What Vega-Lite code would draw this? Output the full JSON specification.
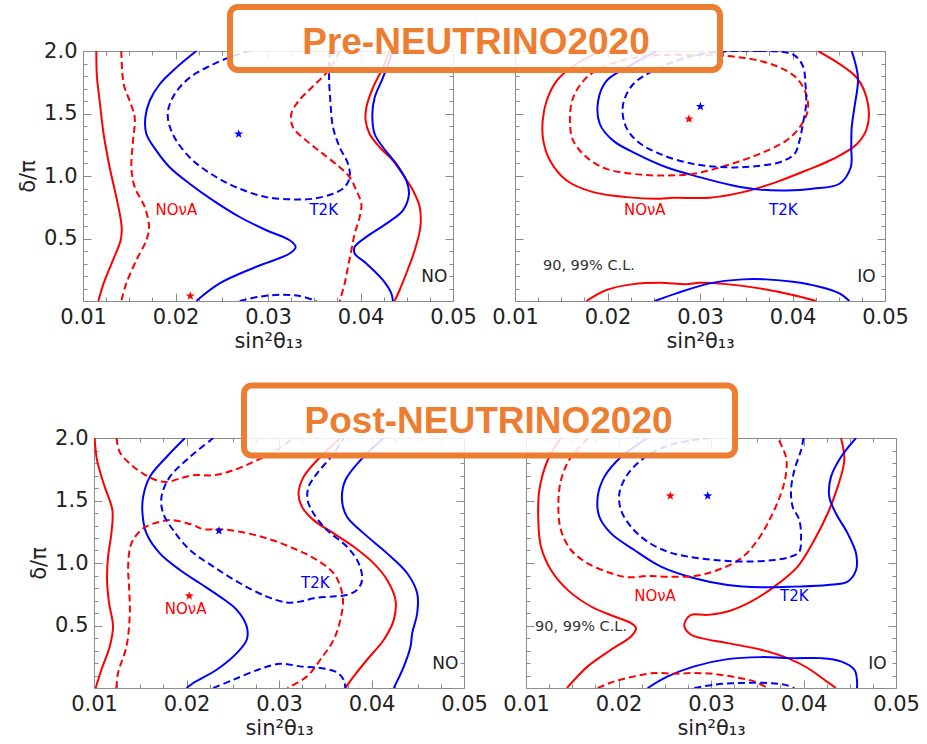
{
  "$schema": "https://vega.github.io/schema/vega-lite/v6.json",
  "padding": {"left": 17, "top": 3, "right": 5, "bottom": 5},
  "spacing": 30,
  "config": {
    "view": {"stroke": "#8c8c8c", "strokeWidth": 1},
    "axis": {"grid": false, "domain": false, "tickColor": "#8c8c8c", "tickWidth": 1, "labelFont": "DejaVu Sans", "labelFontSize": 21, "labelColor": "#222222", "labelFlush": false, "labelOverlap": false, "titleFont": "DejaVu Sans", "titleFontSize": 21, "titleFontWeight": "normal", "titleColor": "#222222"},
    "text": {"font": "DejaVu Sans"}
  },
  "datasets": {
    "tl": [
      {"c":"a","e":"N","l":"s","x":0.01144,"y":2.0},{"c":"a","e":"N","l":"s","x":0.0115,"y":1.8},{"c":"a","e":"N","l":"s","x":0.0118,"y":1.6},{"c":"a","e":"N","l":"s","x":0.01223,"y":1.336},{"c":"a","e":"N","l":"s","x":0.01288,"y":1.07},{"c":"a","e":"N","l":"s","x":0.01368,"y":0.805},{"c":"a","e":"N","l":"s","x":0.01418,"y":0.593},{"c":"a","e":"N","l":"s","x":0.01407,"y":0.486},{"c":"a","e":"N","l":"s","x":0.01324,"y":0.327},{"c":"a","e":"N","l":"s","x":0.01223,"y":0.141},{"c":"a","e":"N","l":"s","x":0.01166,"y":0},
      {"c":"b","e":"N","l":"d","x":0.01414,"y":2.0},{"c":"b","e":"N","l":"d","x":0.0144,"y":1.734},{"c":"b","e":"N","l":"d","x":0.01505,"y":1.6},{"c":"b","e":"N","l":"d","x":0.01559,"y":1.469},{"c":"b","e":"N","l":"d","x":0.01541,"y":1.283},{"c":"b","e":"N","l":"d","x":0.01523,"y":1.07},{"c":"b","e":"N","l":"d","x":0.01559,"y":0.911},{"c":"b","e":"N","l":"d","x":0.01667,"y":0.752},{"c":"b","e":"N","l":"d","x":0.01714,"y":0.593},{"c":"b","e":"N","l":"d","x":0.01685,"y":0.486},{"c":"b","e":"N","l":"d","x":0.01577,"y":0.327},{"c":"b","e":"N","l":"d","x":0.01468,"y":0.141},{"c":"b","e":"N","l":"d","x":0.01414,"y":0},
      {"c":"c","e":"T","l":"s","x":0.02225,"y":2.0},{"c":"c","e":"T","l":"s","x":0.02009,"y":1.867},{"c":"c","e":"T","l":"s","x":0.01829,"y":1.734},{"c":"c","e":"T","l":"s","x":0.01721,"y":1.602},{"c":"c","e":"T","l":"s","x":0.01674,"y":1.469},{"c":"c","e":"T","l":"s","x":0.01685,"y":1.336},{"c":"c","e":"T","l":"s","x":0.01793,"y":1.203},{"c":"c","e":"T","l":"s","x":0.01937,"y":1.07},{"c":"c","e":"T","l":"s","x":0.02153,"y":0.938},{"c":"c","e":"T","l":"s","x":0.02405,"y":0.805},{"c":"c","e":"T","l":"s","x":0.02694,"y":0.672},{"c":"c","e":"T","l":"s","x":0.02982,"y":0.566},{"c":"c","e":"T","l":"s","x":0.03234,"y":0.486},{"c":"c","e":"T","l":"s","x":0.03299,"y":0.433},{"c":"c","e":"T","l":"s","x":0.03234,"y":0.38},{"c":"c","e":"T","l":"s","x":0.02874,"y":0.274},{"c":"c","e":"T","l":"s","x":0.02477,"y":0.141},{"c":"c","e":"T","l":"s","x":0.02225,"y":0},
      {"c":"d","e":"T","l":"d","x":0.03667,"y":2.0},{"c":"d","e":"T","l":"d","x":0.0366,"y":1.787},{"c":"d","e":"T","l":"d","x":0.03674,"y":1.602},{"c":"d","e":"T","l":"d","x":0.03703,"y":1.389},{"c":"d","e":"T","l":"d","x":0.03775,"y":1.23},{"c":"d","e":"T","l":"d","x":0.03865,"y":1.097},{"c":"d","e":"T","l":"d","x":0.03883,"y":0.991},{"c":"d","e":"T","l":"d","x":0.03829,"y":0.911},{"c":"d","e":"T","l":"d","x":0.03703,"y":0.858},{"c":"d","e":"T","l":"d","x":0.03486,"y":0.818},{"c":"d","e":"T","l":"d","x":0.0327,"y":0.813},{"c":"d","e":"T","l":"d","x":0.02982,"y":0.831},{"c":"d","e":"T","l":"d","x":0.02694,"y":0.898},{"c":"d","e":"T","l":"d","x":0.02441,"y":0.991},{"c":"d","e":"T","l":"d","x":0.02189,"y":1.124},{"c":"d","e":"T","l":"d","x":0.02009,"y":1.283},{"c":"d","e":"T","l":"d","x":0.0193,"y":1.416},{"c":"d","e":"T","l":"d","x":0.01919,"y":1.522},{"c":"d","e":"T","l":"d","x":0.01991,"y":1.655},{"c":"d","e":"T","l":"d","x":0.02153,"y":1.787},{"c":"d","e":"T","l":"d","x":0.02369,"y":1.88},{"c":"d","e":"T","l":"d","x":0.02622,"y":1.96},{"c":"d","e":"T","l":"d","x":0.02802,"y":2.0},
      {"c":"e","e":"T","l":"d","x":0.02694,"y":0},{"c":"e","e":"T","l":"d","x":0.0291,"y":0.035},{"c":"e","e":"T","l":"d","x":0.03162,"y":0.05},{"c":"e","e":"T","l":"d","x":0.03342,"y":0.04},{"c":"e","e":"T","l":"d","x":0.03523,"y":0},
      {"c":"f","e":"N","l":"d","x":0.03775,"y":2.0},{"c":"f","e":"N","l":"d","x":0.0366,"y":1.85},{"c":"f","e":"N","l":"d","x":0.0349,"y":1.72},{"c":"f","e":"N","l":"d","x":0.0333,"y":1.6},{"c":"f","e":"N","l":"d","x":0.03252,"y":1.495},{"c":"f","e":"N","l":"d","x":0.0327,"y":1.389},{"c":"f","e":"N","l":"d","x":0.03414,"y":1.283},{"c":"f","e":"N","l":"d","x":0.03595,"y":1.177},{"c":"f","e":"N","l":"d","x":0.03775,"y":1.07},{"c":"f","e":"N","l":"d","x":0.03883,"y":0.991},{"c":"f","e":"N","l":"d","x":0.03955,"y":0.884},{"c":"f","e":"N","l":"d","x":0.04009,"y":0.778},{"c":"f","e":"N","l":"d","x":0.03991,"y":0.672},{"c":"f","e":"N","l":"d","x":0.03937,"y":0.539},{"c":"f","e":"N","l":"d","x":0.03901,"y":0.406},{"c":"f","e":"N","l":"d","x":0.03865,"y":0.274},{"c":"f","e":"N","l":"d","x":0.03829,"y":0.141},{"c":"f","e":"N","l":"d","x":0.03775,"y":0},
      {"c":"g","e":"N","l":"s","x":0.04315,"y":2.0},{"c":"g","e":"N","l":"s","x":0.04243,"y":1.867},{"c":"g","e":"N","l":"s","x":0.04135,"y":1.708},{"c":"g","e":"N","l":"s","x":0.04063,"y":1.548},{"c":"g","e":"N","l":"s","x":0.04056,"y":1.442},{"c":"g","e":"N","l":"s","x":0.04099,"y":1.336},{"c":"g","e":"N","l":"s","x":0.04207,"y":1.23},{"c":"g","e":"N","l":"s","x":0.04351,"y":1.124},{"c":"g","e":"N","l":"s","x":0.04477,"y":0.991},{"c":"g","e":"N","l":"s","x":0.04568,"y":0.884},{"c":"g","e":"N","l":"s","x":0.0464,"y":0.752},{"c":"g","e":"N","l":"s","x":0.04647,"y":0.592},{"c":"g","e":"N","l":"s","x":0.04586,"y":0.406},{"c":"g","e":"N","l":"s","x":0.04495,"y":0.22},{"c":"g","e":"N","l":"s","x":0.04423,"y":0.088},{"c":"g","e":"N","l":"s","x":0.04369,"y":0},
      {"c":"h","e":"T","l":"s","x":0.04351,"y":2.0},{"c":"h","e":"T","l":"s","x":0.04243,"y":1.787},{"c":"h","e":"T","l":"s","x":0.04153,"y":1.628},{"c":"h","e":"T","l":"s","x":0.04128,"y":1.495},{"c":"h","e":"T","l":"s","x":0.04153,"y":1.336},{"c":"h","e":"T","l":"s","x":0.04243,"y":1.23},{"c":"h","e":"T","l":"s","x":0.04387,"y":1.097},{"c":"h","e":"T","l":"s","x":0.04495,"y":0.964},{"c":"h","e":"T","l":"s","x":0.04524,"y":0.858},{"c":"h","e":"T","l":"s","x":0.04459,"y":0.725},{"c":"h","e":"T","l":"s","x":0.04279,"y":0.619},{"c":"h","e":"T","l":"s","x":0.04063,"y":0.513},{"c":"h","e":"T","l":"s","x":0.03937,"y":0.433},{"c":"h","e":"T","l":"s","x":0.03937,"y":0.38},{"c":"h","e":"T","l":"s","x":0.04063,"y":0.3},{"c":"h","e":"T","l":"s","x":0.04243,"y":0.167},{"c":"h","e":"T","l":"s","x":0.04333,"y":0.061},{"c":"h","e":"T","l":"s","x":0.04351,"y":0}
    ],
    "tr": [
      {"c":"a","e":"N","l":"s","x":0.01917,"y":2.0},{"c":"a","e":"N","l":"s","x":0.01629,"y":1.88},{"c":"a","e":"N","l":"s","x":0.0145,"y":1.761},{"c":"a","e":"N","l":"s","x":0.01342,"y":1.602},{"c":"a","e":"N","l":"s","x":0.01299,"y":1.442},{"c":"a","e":"N","l":"s","x":0.01306,"y":1.283},{"c":"a","e":"N","l":"s","x":0.01378,"y":1.124},{"c":"a","e":"N","l":"s","x":0.01558,"y":0.964},{"c":"a","e":"N","l":"s","x":0.01845,"y":0.871},{"c":"a","e":"N","l":"s","x":0.02205,"y":0.831},{"c":"a","e":"N","l":"s","x":0.02565,"y":0.818},{"c":"a","e":"N","l":"s","x":0.02709,"y":0.826},{"c":"a","e":"N","l":"s","x":0.03104,"y":0.826},{"c":"a","e":"N","l":"s","x":0.03464,"y":0.871},{"c":"a","e":"N","l":"s","x":0.03824,"y":0.951},{"c":"a","e":"N","l":"s","x":0.04147,"y":1.044},{"c":"a","e":"N","l":"s","x":0.04438,"y":1.136},{"c":"a","e":"N","l":"s","x":0.04697,"y":1.256},{"c":"a","e":"N","l":"s","x":0.04805,"y":1.384},{"c":"a","e":"N","l":"s","x":0.04816,"y":1.576},{"c":"a","e":"N","l":"s","x":0.04697,"y":1.784},{"c":"a","e":"N","l":"s","x":0.04276,"y":2.0},
      {"c":"b","e":"N","l":"s","x":0.01773,"y":0},{"c":"b","e":"N","l":"s","x":0.01989,"y":0.088},{"c":"b","e":"N","l":"s","x":0.02277,"y":0.135},{"c":"b","e":"N","l":"s","x":0.02565,"y":0.146},{"c":"b","e":"N","l":"s","x":0.02853,"y":0.135},{"c":"b","e":"N","l":"s","x":0.02996,"y":0.146},{"c":"b","e":"N","l":"s","x":0.03284,"y":0.135},{"c":"b","e":"N","l":"s","x":0.03644,"y":0.101},{"c":"b","e":"N","l":"s","x":0.04004,"y":0.048},{"c":"b","e":"N","l":"s","x":0.04255,"y":0},
      {"c":"c","e":"N","l":"d","x":0.02924,"y":1.968},{"c":"c","e":"N","l":"d","x":0.02421,"y":1.96},{"c":"c","e":"N","l":"d","x":0.02025,"y":1.894},{"c":"c","e":"N","l":"d","x":0.01773,"y":1.787},{"c":"c","e":"N","l":"d","x":0.01629,"y":1.628},{"c":"c","e":"N","l":"d","x":0.01594,"y":1.442},{"c":"c","e":"N","l":"d","x":0.01629,"y":1.283},{"c":"c","e":"N","l":"d","x":0.01773,"y":1.15},{"c":"c","e":"N","l":"d","x":0.01989,"y":1.057},{"c":"c","e":"N","l":"d","x":0.02277,"y":1.017},{"c":"c","e":"N","l":"d","x":0.02565,"y":1.004},{"c":"c","e":"N","l":"d","x":0.02924,"y":1.017},{"c":"c","e":"N","l":"d","x":0.03284,"y":1.084},{"c":"c","e":"N","l":"d","x":0.03644,"y":1.177},{"c":"c","e":"N","l":"d","x":0.03932,"y":1.283},{"c":"c","e":"N","l":"d","x":0.04076,"y":1.389},{"c":"c","e":"N","l":"d","x":0.04165,"y":1.522},{"c":"c","e":"N","l":"d","x":0.04147,"y":1.655},{"c":"c","e":"N","l":"d","x":0.0404,"y":1.787},{"c":"c","e":"N","l":"d","x":0.03824,"y":1.88},{"c":"c","e":"N","l":"d","x":0.03572,"y":1.933},{"c":"c","e":"N","l":"d","x":0.03284,"y":1.96},{"c":"c","e":"N","l":"d","x":0.02924,"y":1.968},
      {"c":"d","e":"T","l":"s","x":0.02529,"y":2.0},{"c":"d","e":"T","l":"s","x":0.02205,"y":1.867},{"c":"d","e":"T","l":"s","x":0.01989,"y":1.761},{"c":"d","e":"T","l":"s","x":0.01899,"y":1.602},{"c":"d","e":"T","l":"s","x":0.01917,"y":1.416},{"c":"d","e":"T","l":"s","x":0.02061,"y":1.283},{"c":"d","e":"T","l":"s","x":0.02313,"y":1.177},{"c":"d","e":"T","l":"s","x":0.02637,"y":1.07},{"c":"d","e":"T","l":"s","x":0.02996,"y":0.991},{"c":"d","e":"T","l":"s","x":0.03356,"y":0.924},{"c":"d","e":"T","l":"s","x":0.03644,"y":0.891},{"c":"d","e":"T","l":"s","x":0.03932,"y":0.884},{"c":"d","e":"T","l":"s","x":0.04219,"y":0.898},{"c":"d","e":"T","l":"s","x":0.04507,"y":0.938},{"c":"d","e":"T","l":"s","x":0.0463,"y":1.07},{"c":"d","e":"T","l":"s","x":0.04635,"y":1.23},{"c":"d","e":"T","l":"s","x":0.0464,"y":1.389},{"c":"d","e":"T","l":"s","x":0.04669,"y":1.548},{"c":"d","e":"T","l":"s","x":0.04708,"y":1.784},{"c":"d","e":"T","l":"s","x":0.0464,"y":2.0},
      {"c":"e","e":"T","l":"s","x":0.02511,"y":0},{"c":"e","e":"T","l":"s","x":0.02745,"y":0.061},{"c":"e","e":"T","l":"s","x":0.03104,"y":0.141},{"c":"e","e":"T","l":"s","x":0.03464,"y":0.173},{"c":"e","e":"T","l":"s","x":0.03716,"y":0.173},{"c":"e","e":"T","l":"s","x":0.04004,"y":0.154},{"c":"e","e":"T","l":"s","x":0.04291,"y":0.114},{"c":"e","e":"T","l":"s","x":0.04507,"y":0.061},{"c":"e","e":"T","l":"s","x":0.04615,"y":0},
      {"c":"f","e":"T","l":"d","x":0.03644,"y":2.0},{"c":"f","e":"T","l":"d","x":0.04004,"y":1.973},{"c":"f","e":"T","l":"d","x":0.04112,"y":1.88},{"c":"f","e":"T","l":"d","x":0.0414,"y":1.734},{"c":"f","e":"T","l":"d","x":0.04147,"y":1.575},{"c":"f","e":"T","l":"d","x":0.04112,"y":1.416},{"c":"f","e":"T","l":"d","x":0.04076,"y":1.283},{"c":"f","e":"T","l":"d","x":0.04022,"y":1.177},{"c":"f","e":"T","l":"d","x":0.0386,"y":1.11},{"c":"f","e":"T","l":"d","x":0.03572,"y":1.076},{"c":"f","e":"T","l":"d","x":0.03284,"y":1.07},{"c":"f","e":"T","l":"d","x":0.02924,"y":1.097},{"c":"f","e":"T","l":"d","x":0.02565,"y":1.177},{"c":"f","e":"T","l":"d","x":0.02313,"y":1.283},{"c":"f","e":"T","l":"d","x":0.02187,"y":1.416},{"c":"f","e":"T","l":"d","x":0.02169,"y":1.575},{"c":"f","e":"T","l":"d","x":0.02277,"y":1.734},{"c":"f","e":"T","l":"d","x":0.02529,"y":1.854},{"c":"f","e":"T","l":"d","x":0.02853,"y":1.947},{"c":"f","e":"T","l":"d","x":0.03212,"y":1.995},{"c":"f","e":"T","l":"d","x":0.03644,"y":2.0}
    ],
    "bl": [
      {"c":"a","e":"N","l":"s","x":0.01007,"y":2.0},{"c":"a","e":"N","l":"s","x":0.01033,"y":1.822},{"c":"a","e":"N","l":"s","x":0.01116,"y":1.609},{"c":"a","e":"N","l":"s","x":0.01199,"y":1.423},{"c":"a","e":"N","l":"s","x":0.01188,"y":1.237},{"c":"a","e":"N","l":"s","x":0.01152,"y":1.051},{"c":"a","e":"N","l":"s","x":0.01141,"y":0.864},{"c":"a","e":"N","l":"s","x":0.01163,"y":0.678},{"c":"a","e":"N","l":"s","x":0.01206,"y":0.492},{"c":"a","e":"N","l":"s","x":0.0117,"y":0.332},{"c":"a","e":"N","l":"s","x":0.0108,"y":0.146},{"c":"a","e":"N","l":"s","x":0.01018,"y":0},
      {"c":"b","e":"N","l":"d","x":0.01242,"y":2.0},{"c":"b","e":"N","l":"d","x":0.01278,"y":1.888},{"c":"b","e":"N","l":"d","x":0.01387,"y":1.795},{"c":"b","e":"N","l":"d","x":0.01531,"y":1.715},{"c":"b","e":"N","l":"d","x":0.01676,"y":1.662},{"c":"b","e":"N","l":"d","x":0.01784,"y":1.649},{"c":"b","e":"N","l":"d","x":0.01929,"y":1.676},{"c":"b","e":"N","l":"d","x":0.02073,"y":1.702},{"c":"b","e":"N","l":"d","x":0.0229,"y":1.702},{"c":"b","e":"N","l":"d","x":0.02507,"y":1.742},{"c":"b","e":"N","l":"d","x":0.02724,"y":1.809},{"c":"b","e":"N","l":"d","x":0.0294,"y":1.888},{"c":"b","e":"N","l":"d","x":0.03157,"y":2.0},
      {"c":"c","e":"N","l":"d","x":0.01242,"y":0},{"c":"c","e":"N","l":"d","x":0.0126,"y":0.12},{"c":"c","e":"N","l":"d","x":0.01351,"y":0.332},{"c":"c","e":"N","l":"d","x":0.01387,"y":0.598},{"c":"c","e":"N","l":"d","x":0.01379,"y":0.811},{"c":"c","e":"N","l":"d","x":0.01369,"y":0.971},{"c":"c","e":"N","l":"d","x":0.01405,"y":1.157},{"c":"c","e":"N","l":"d","x":0.01531,"y":1.277},{"c":"c","e":"N","l":"d","x":0.01712,"y":1.33},{"c":"c","e":"N","l":"d","x":0.01856,"y":1.343},{"c":"c","e":"N","l":"d","x":0.02073,"y":1.303},{"c":"c","e":"N","l":"d","x":0.02182,"y":1.271},{"c":"c","e":"N","l":"d","x":0.02362,"y":1.271},{"c":"c","e":"N","l":"d","x":0.02579,"y":1.25},{"c":"c","e":"N","l":"d","x":0.02868,"y":1.197},{"c":"c","e":"N","l":"d","x":0.03157,"y":1.117},{"c":"c","e":"N","l":"d","x":0.0341,"y":1.024},{"c":"c","e":"N","l":"d","x":0.03591,"y":0.918},{"c":"c","e":"N","l":"d","x":0.03663,"y":0.811},{"c":"c","e":"N","l":"d","x":0.03692,"y":0.705},{"c":"c","e":"N","l":"d","x":0.03663,"y":0.545},{"c":"c","e":"N","l":"d","x":0.03591,"y":0.386},{"c":"c","e":"N","l":"d","x":0.03446,"y":0.226},{"c":"c","e":"N","l":"d","x":0.03302,"y":0.093},{"c":"c","e":"N","l":"d","x":0.03092,"y":0},
      {"c":"d","e":"T","l":"s","x":0.01983,"y":2.0},{"c":"d","e":"T","l":"s","x":0.01784,"y":1.848},{"c":"d","e":"T","l":"s","x":0.01603,"y":1.689},{"c":"d","e":"T","l":"s","x":0.01531,"y":1.529},{"c":"d","e":"T","l":"s","x":0.01524,"y":1.396},{"c":"d","e":"T","l":"s","x":0.01567,"y":1.237},{"c":"d","e":"T","l":"s","x":0.01712,"y":1.077},{"c":"d","e":"T","l":"s","x":0.01929,"y":0.944},{"c":"d","e":"T","l":"s","x":0.02145,"y":0.838},{"c":"d","e":"T","l":"s","x":0.02362,"y":0.731},{"c":"d","e":"T","l":"s","x":0.02543,"y":0.625},{"c":"d","e":"T","l":"s","x":0.02651,"y":0.492},{"c":"d","e":"T","l":"s","x":0.02651,"y":0.386},{"c":"d","e":"T","l":"s","x":0.02543,"y":0.279},{"c":"d","e":"T","l":"s","x":0.02326,"y":0.146},{"c":"d","e":"T","l":"s","x":0.02073,"y":0.04},{"c":"d","e":"T","l":"s","x":0.02001,"y":0},
      {"c":"e","e":"T","l":"d","x":0.0229,"y":2.0},{"c":"e","e":"T","l":"d","x":0.02037,"y":1.848},{"c":"e","e":"T","l":"d","x":0.0182,"y":1.689},{"c":"e","e":"T","l":"d","x":0.0173,"y":1.529},{"c":"e","e":"T","l":"d","x":0.01748,"y":1.396},{"c":"e","e":"T","l":"d","x":0.01856,"y":1.263},{"c":"e","e":"T","l":"d","x":0.02037,"y":1.104},{"c":"e","e":"T","l":"d","x":0.0229,"y":0.971},{"c":"e","e":"T","l":"d","x":0.02579,"y":0.838},{"c":"e","e":"T","l":"d","x":0.02868,"y":0.731},{"c":"e","e":"T","l":"d","x":0.03085,"y":0.684},{"c":"e","e":"T","l":"d","x":0.03229,"y":0.691},{"c":"e","e":"T","l":"d","x":0.03374,"y":0.718},{"c":"e","e":"T","l":"d","x":0.03555,"y":0.731},{"c":"e","e":"T","l":"d","x":0.03735,"y":0.745},{"c":"e","e":"T","l":"d","x":0.03844,"y":0.785},{"c":"e","e":"T","l":"d","x":0.03898,"y":0.864},{"c":"e","e":"T","l":"d","x":0.03862,"y":0.997},{"c":"e","e":"T","l":"d","x":0.03735,"y":1.13},{"c":"e","e":"T","l":"d","x":0.03519,"y":1.263},{"c":"e","e":"T","l":"d","x":0.03374,"y":1.396},{"c":"e","e":"T","l":"d","x":0.03309,"y":1.503},{"c":"e","e":"T","l":"d","x":0.0332,"y":1.609},{"c":"e","e":"T","l":"d","x":0.0341,"y":1.715},{"c":"e","e":"T","l":"d","x":0.03591,"y":1.875},{"c":"e","e":"T","l":"d","x":0.03699,"y":2.0},
      {"c":"f","e":"T","l":"d","x":0.0229,"y":0},{"c":"f","e":"T","l":"d","x":0.02507,"y":0.066},{"c":"f","e":"T","l":"d","x":0.02796,"y":0.152},{"c":"f","e":"T","l":"d","x":0.03013,"y":0.194},{"c":"f","e":"T","l":"d","x":0.03229,"y":0.173},{"c":"f","e":"T","l":"d","x":0.03446,"y":0.16},{"c":"f","e":"T","l":"d","x":0.03627,"y":0.125},{"c":"f","e":"T","l":"d","x":0.03699,"y":0.066},{"c":"f","e":"T","l":"d","x":0.03717,"y":0},
      {"c":"g","e":"N","l":"s","x":0.03663,"y":2.0},{"c":"g","e":"N","l":"s","x":0.03446,"y":1.848},{"c":"g","e":"N","l":"s","x":0.03266,"y":1.689},{"c":"g","e":"N","l":"s","x":0.03211,"y":1.556},{"c":"g","e":"N","l":"s","x":0.03248,"y":1.449},{"c":"g","e":"N","l":"s","x":0.03374,"y":1.343},{"c":"g","e":"N","l":"s","x":0.03591,"y":1.237},{"c":"g","e":"N","l":"s","x":0.03808,"y":1.13},{"c":"g","e":"N","l":"s","x":0.04024,"y":0.997},{"c":"g","e":"N","l":"s","x":0.04169,"y":0.864},{"c":"g","e":"N","l":"s","x":0.04259,"y":0.705},{"c":"g","e":"N","l":"s","x":0.04241,"y":0.545},{"c":"g","e":"N","l":"s","x":0.04133,"y":0.386},{"c":"g","e":"N","l":"s","x":0.03952,"y":0.226},{"c":"g","e":"N","l":"s","x":0.03808,"y":0.093},{"c":"g","e":"N","l":"s","x":0.03717,"y":0},
      {"c":"h","e":"T","l":"s","x":0.04133,"y":2.0},{"c":"h","e":"T","l":"s","x":0.0388,"y":1.822},{"c":"h","e":"T","l":"s","x":0.03717,"y":1.662},{"c":"h","e":"T","l":"s","x":0.03681,"y":1.503},{"c":"h","e":"T","l":"s","x":0.03735,"y":1.37},{"c":"h","e":"T","l":"s","x":0.03916,"y":1.237},{"c":"h","e":"T","l":"s","x":0.04169,"y":1.077},{"c":"h","e":"T","l":"s","x":0.04386,"y":0.918},{"c":"h","e":"T","l":"s","x":0.04494,"y":0.758},{"c":"h","e":"T","l":"s","x":0.04494,"y":0.598},{"c":"h","e":"T","l":"s","x":0.0444,"y":0.439},{"c":"h","e":"T","l":"s","x":0.04422,"y":0.332},{"c":"h","e":"T","l":"s","x":0.0435,"y":0.173},{"c":"h","e":"T","l":"s","x":0.04241,"y":0}
    ],
    "br": [
      {"c":"a","e":"N","l":"s","x":0.01378,"y":2.0},{"c":"a","e":"N","l":"s","x":0.01234,"y":1.822},{"c":"a","e":"N","l":"s","x":0.01144,"y":1.582},{"c":"a","e":"N","l":"s","x":0.01133,"y":1.343},{"c":"a","e":"N","l":"s","x":0.01162,"y":1.13},{"c":"a","e":"N","l":"s","x":0.0127,"y":0.944},{"c":"a","e":"N","l":"s","x":0.0145,"y":0.785},{"c":"a","e":"N","l":"s","x":0.01703,"y":0.652},{"c":"a","e":"N","l":"s","x":0.01955,"y":0.572},{"c":"a","e":"N","l":"s","x":0.02135,"y":0.519},{"c":"a","e":"N","l":"s","x":0.02189,"y":0.479},{"c":"a","e":"N","l":"s","x":0.02135,"y":0.412},{"c":"a","e":"N","l":"s","x":0.01919,"y":0.306},{"c":"a","e":"N","l":"s","x":0.01667,"y":0.173},{"c":"a","e":"N","l":"s","x":0.01523,"y":0.066},{"c":"a","e":"N","l":"s","x":0.01443,"y":0},
      {"c":"b","e":"N","l":"s","x":0.04405,"y":2.0},{"c":"b","e":"N","l":"s","x":0.04441,"y":1.822},{"c":"b","e":"N","l":"s","x":0.04369,"y":1.609},{"c":"b","e":"N","l":"s","x":0.04261,"y":1.396},{"c":"b","e":"N","l":"s","x":0.04117,"y":1.184},{"c":"b","e":"N","l":"s","x":0.03937,"y":0.971},{"c":"b","e":"N","l":"s","x":0.03685,"y":0.811},{"c":"b","e":"N","l":"s","x":0.03432,"y":0.691},{"c":"b","e":"N","l":"s","x":0.0318,"y":0.612},{"c":"b","e":"N","l":"s","x":0.02964,"y":0.585},{"c":"b","e":"N","l":"s","x":0.02784,"y":0.585},{"c":"b","e":"N","l":"s","x":0.0273,"y":0.545},{"c":"b","e":"N","l":"s","x":0.02712,"y":0.492},{"c":"b","e":"N","l":"s","x":0.02784,"y":0.426},{"c":"b","e":"N","l":"s","x":0.02892,"y":0.399},{"c":"b","e":"N","l":"s","x":0.0318,"y":0.359},{"c":"b","e":"N","l":"s","x":0.03541,"y":0.306},{"c":"b","e":"N","l":"s","x":0.03829,"y":0.239},{"c":"b","e":"N","l":"s","x":0.04045,"y":0.16},{"c":"b","e":"N","l":"s","x":0.04225,"y":0.066},{"c":"b","e":"N","l":"s","x":0.04351,"y":0},
      {"c":"c","e":"N","l":"d","x":0.01667,"y":1.995},{"c":"c","e":"N","l":"d","x":0.01486,"y":1.848},{"c":"c","e":"N","l":"d","x":0.01378,"y":1.662},{"c":"c","e":"N","l":"d","x":0.0135,"y":1.449},{"c":"c","e":"N","l":"d","x":0.01378,"y":1.263},{"c":"c","e":"N","l":"d","x":0.01486,"y":1.104},{"c":"c","e":"N","l":"d","x":0.01667,"y":0.997},{"c":"c","e":"N","l":"d","x":0.01919,"y":0.918},{"c":"c","e":"N","l":"d","x":0.02099,"y":0.886},{"c":"c","e":"N","l":"d","x":0.02315,"y":0.896},{"c":"c","e":"N","l":"d","x":0.02532,"y":0.891},{"c":"c","e":"N","l":"d","x":0.0282,"y":0.896},{"c":"c","e":"N","l":"d","x":0.03072,"y":0.944},{"c":"c","e":"N","l":"d","x":0.03324,"y":1.037},{"c":"c","e":"N","l":"d","x":0.03505,"y":1.184},{"c":"c","e":"N","l":"d","x":0.03649,"y":1.37},{"c":"c","e":"N","l":"d","x":0.03757,"y":1.556},{"c":"c","e":"N","l":"d","x":0.03811,"y":1.715},{"c":"c","e":"N","l":"d","x":0.03811,"y":1.848},{"c":"c","e":"N","l":"d","x":0.03721,"y":2.0},
      {"c":"d","e":"N","l":"d","x":0.01775,"y":0},{"c":"d","e":"N","l":"d","x":0.01955,"y":0.053},{"c":"d","e":"N","l":"d","x":0.02171,"y":0.093},{"c":"d","e":"N","l":"d","x":0.02387,"y":0.12},{"c":"d","e":"N","l":"d","x":0.02604,"y":0.114},{"c":"d","e":"N","l":"d","x":0.0282,"y":0.12},{"c":"d","e":"N","l":"d","x":0.03036,"y":0.112},{"c":"d","e":"N","l":"d","x":0.03252,"y":0.088},{"c":"d","e":"N","l":"d","x":0.03468,"y":0.053},{"c":"d","e":"N","l":"d","x":0.03613,"y":0},
      {"c":"e","e":"T","l":"s","x":0.02315,"y":2.0},{"c":"e","e":"T","l":"s","x":0.02027,"y":1.848},{"c":"e","e":"T","l":"s","x":0.01847,"y":1.689},{"c":"e","e":"T","l":"s","x":0.01775,"y":1.529},{"c":"e","e":"T","l":"s","x":0.01793,"y":1.37},{"c":"e","e":"T","l":"s","x":0.01919,"y":1.237},{"c":"e","e":"T","l":"s","x":0.02171,"y":1.104},{"c":"e","e":"T","l":"s","x":0.02459,"y":0.971},{"c":"e","e":"T","l":"s","x":0.0282,"y":0.878},{"c":"e","e":"T","l":"s","x":0.0318,"y":0.824},{"c":"e","e":"T","l":"s","x":0.03541,"y":0.806},{"c":"e","e":"T","l":"s","x":0.03901,"y":0.811},{"c":"e","e":"T","l":"s","x":0.04261,"y":0.824},{"c":"e","e":"T","l":"s","x":0.04477,"y":0.851},{"c":"e","e":"T","l":"s","x":0.04568,"y":0.944},{"c":"e","e":"T","l":"s","x":0.04568,"y":1.077},{"c":"e","e":"T","l":"s","x":0.04477,"y":1.237},{"c":"e","e":"T","l":"s","x":0.04351,"y":1.396},{"c":"e","e":"T","l":"s","x":0.04279,"y":1.529},{"c":"e","e":"T","l":"s","x":0.04297,"y":1.689},{"c":"e","e":"T","l":"s","x":0.04405,"y":1.848},{"c":"e","e":"T","l":"s","x":0.04568,"y":2.0},
      {"c":"f","e":"T","l":"s","x":0.02315,"y":0},{"c":"f","e":"T","l":"s","x":0.02532,"y":0.093},{"c":"f","e":"T","l":"s","x":0.0282,"y":0.173},{"c":"f","e":"T","l":"s","x":0.0318,"y":0.231},{"c":"f","e":"T","l":"s","x":0.03541,"y":0.247},{"c":"f","e":"T","l":"s","x":0.03901,"y":0.239},{"c":"f","e":"T","l":"s","x":0.04189,"y":0.239},{"c":"f","e":"T","l":"s","x":0.04405,"y":0.213},{"c":"f","e":"T","l":"s","x":0.0455,"y":0.146},{"c":"f","e":"T","l":"s","x":0.04578,"y":0.066},{"c":"f","e":"T","l":"s","x":0.04578,"y":0},
      {"c":"g","e":"T","l":"d","x":0.04,"y":2.0},{"c":"g","e":"T","l":"d","x":0.03973,"y":1.902},{"c":"g","e":"T","l":"d","x":0.03901,"y":1.742},{"c":"g","e":"T","l":"d","x":0.03865,"y":1.582},{"c":"g","e":"T","l":"d","x":0.03883,"y":1.449},{"c":"g","e":"T","l":"d","x":0.03955,"y":1.343},{"c":"g","e":"T","l":"d","x":0.03973,"y":1.184},{"c":"g","e":"T","l":"d","x":0.03955,"y":1.09},{"c":"g","e":"T","l":"d","x":0.03865,"y":1.051},{"c":"g","e":"T","l":"d","x":0.03685,"y":1.024},{"c":"g","e":"T","l":"d","x":0.0336,"y":1.011},{"c":"g","e":"T","l":"d","x":0.03036,"y":1.024},{"c":"g","e":"T","l":"d","x":0.02748,"y":1.051},{"c":"g","e":"T","l":"d","x":0.02532,"y":1.09},{"c":"g","e":"T","l":"d","x":0.02315,"y":1.17},{"c":"g","e":"T","l":"d","x":0.02135,"y":1.29},{"c":"g","e":"T","l":"d","x":0.02027,"y":1.423},{"c":"g","e":"T","l":"d","x":0.02009,"y":1.556},{"c":"g","e":"T","l":"d","x":0.02081,"y":1.689},{"c":"g","e":"T","l":"d","x":0.02243,"y":1.822},{"c":"g","e":"T","l":"d","x":0.02496,"y":1.928},{"c":"g","e":"T","l":"d","x":0.02784,"y":1.981},{"c":"g","e":"T","l":"d","x":0.03,"y":2.0},
      {"c":"h","e":"T","l":"d","x":0.0282,"y":0},{"c":"h","e":"T","l":"d","x":0.03036,"y":0.027},{"c":"h","e":"T","l":"d","x":0.03324,"y":0.04},{"c":"h","e":"T","l":"d","x":0.03613,"y":0.04},{"c":"h","e":"T","l":"d","x":0.03793,"y":0.027},{"c":"h","e":"T","l":"d","x":0.03901,"y":0}
    ],
    "stars": [
      {"p":"TL","e":"T","x":0.02683,"y":1.336},{"p":"TL","e":"N","x":0.0216,"y":0.04},
      {"p":"TR","e":"T","x":0.03004,"y":1.556},{"p":"TR","e":"N","x":0.02881,"y":1.456},
      {"p":"BL","e":"T","x":0.02351,"y":1.258},{"p":"BL","e":"N","x":0.0203,"y":0.737},
      {"p":"BR","e":"N","x":0.0256,"y":1.537},{"p":"BR","e":"T","x":0.02964,"y":1.537}
    ],
    "labels": [
      {"p":"TL","e":"N","s":"NOνA","x":0.02009,"y":0.73},{"p":"TL","e":"T","s":"T2K","x":0.03602,"y":0.73},
      {"p":"TR","e":"N","s":"NOνA","x":0.02403,"y":0.73},{"p":"TR","e":"T","s":"T2K","x":0.039,"y":0.73},
      {"p":"BL","e":"N","s":"NOνA","x":0.0199,"y":0.636},{"p":"BL","e":"T","s":"T2K","x":0.03392,"y":0.838},
      {"p":"BR","e":"N","s":"NOνA","x":0.02395,"y":0.737},{"p":"BR","e":"T","s":"T2K","x":0.039,"y":0.737}
    ],
    "notes": [
      {"p":"TL","s":"NO","x":0.0494,"y":0.194},{"p":"TR","s":"IO","x":0.049,"y":0.194},
      {"p":"BL","s":"NO","x":0.0494,"y":0.194},{"p":"BR","s":"IO","x":0.049,"y":0.194}
    ],
    "cl": [
      {"p":"TR","s":"90, 99% C.L.","x":0.01799,"y":0.282},{"p":"BR","s":"90, 99% C.L.","x":0.01595,"y":0.487}
    ],
    "boxes": [
      {"p":"TR","x":-0.02081,"x2":0.03216,"y":2.352,"y2":1.848},
      {"p":"BR","x":-0.02049,"x2":0.0326,"y":2.42,"y2":1.86}
    ],
    "heads": [
      {"p":"TR","s":"Pre-NEUTRINO2020","x":0.00578,"y":1.976},
      {"p":"BR","s":"Post-NEUTRINO2020","x":0.00595,"y":2.044}
    ]
  },
  "vconcat": [
    {
      "hconcat": [
        {"width": 1, "height": 250, "view": {"stroke": null}, "data": {"values": []}, "mark": "point"},
        {
          "width": 370, "height": 250,
          "resolve": {"axis": {"x": "independent", "y": "independent"}},
          "layer": [
            {"data": {"name": "tl"}, "transform": [{"filter": "datum.l=='s'"}],
             "mark": {"type": "line", "strokeWidth": 2, "interpolate": "catmull-rom", "clip": true},
             "encoding": {
               "x": {"field": "x", "type": "quantitative", "scale": {"domain": [0.01, 0.05], "nice": false, "zero": false}, "axis": {"orient": "bottom", "values": [0.01, 0.02, 0.03, 0.04, 0.05], "format": ".2f", "ticks": false, "labelPadding": 5, "title": "sin²θ₁₃", "titlePadding": 3}},
               "y": {"field": "y", "type": "quantitative", "scale": {"domain": [0, 2], "nice": false, "zero": false}, "axis": {"orient": "left", "values": [0.5, 1, 1.5, 2], "format": ".1f", "ticks": false, "labelPadding": 6, "title": "δ/π", "titlePadding": 5}},
               "color": {"field": "e", "type": "nominal", "scale": {"domain": ["N", "T"], "range": ["#ff0000", "#0000ff"]}, "legend": null},
               "detail": {"field": "c"}, "order": {"value": null}}},
            {"data": {"name": "tl"}, "transform": [{"filter": "datum.l=='d'"}],
             "mark": {"type": "line", "strokeWidth": 2, "strokeDash": [7, 4], "interpolate": "catmull-rom", "clip": true},
             "encoding": {
               "x": {"field": "x", "type": "quantitative", "scale": {"domain": [0.01, 0.05], "nice": false, "zero": false}, "axis": {"orient": "bottom", "values": [0.01, 0.02, 0.03, 0.04, 0.05], "labels": false, "tickSize": -8, "title": null}},
               "y": {"field": "y", "type": "quantitative", "scale": {"domain": [0, 2], "nice": false, "zero": false}, "axis": {"orient": "left", "values": [0, 0.5, 1, 1.5, 2], "labels": false, "tickSize": -8, "title": null}},
               "color": {"field": "e", "type": "nominal", "scale": {"domain": ["N", "T"], "range": ["#ff0000", "#0000ff"]}, "legend": null},
               "detail": {"field": "c"}, "order": {"value": null}}},
            {"data": {"name": "stars"}, "transform": [{"filter": "datum.p=='TL'"}],
             "mark": {"type": "point", "shape": "M0,-1L0.235,-0.324L0.951,-0.309L0.38,0.124L0.588,0.809L0,0.4L-0.588,0.809L-0.38,0.124L-0.951,-0.309L-0.235,-0.324Z", "filled": true, "size": 90, "opacity": 1},
             "encoding": {
               "x": {"field": "x", "type": "quantitative", "scale": {"domain": [0.01, 0.05], "nice": false, "zero": false}, "axis": {"orient": "bottom", "values": [0.0125, 0.015, 0.0175, 0.0225, 0.025, 0.0275, 0.0325, 0.035, 0.0375, 0.0425, 0.045, 0.0475], "labels": false, "tickSize": -4, "title": null}},
               "y": {"field": "y", "type": "quantitative", "scale": {"domain": [0, 2], "nice": false, "zero": false}, "axis": {"orient": "left", "values": [0.1, 0.2, 0.3, 0.4, 0.6, 0.7, 0.8, 0.9, 1.1, 1.2, 1.3, 1.4, 1.6, 1.7, 1.8, 1.9], "labels": false, "tickSize": -4, "title": null}},
               "color": {"field": "e", "type": "nominal", "scale": {"domain": ["N", "T"], "range": ["#ff0000", "#0000ff"]}, "legend": null}}},
            {"data": {"name": "labels"}, "transform": [{"filter": "datum.p=='TL'"}],
             "mark": {"type": "text", "fontSize": 15, "align": "center", "baseline": "middle"},
             "encoding": {
               "x": {"field": "x", "type": "quantitative", "scale": {"domain": [0.01, 0.05], "nice": false, "zero": false}, "axis": {"orient": "top", "values": [0.01, 0.02, 0.03, 0.04, 0.05], "labels": false, "tickSize": -8, "title": null}},
               "y": {"field": "y", "type": "quantitative", "scale": {"domain": [0, 2], "nice": false, "zero": false}, "axis": {"orient": "right", "values": [0, 0.5, 1, 1.5, 2], "labels": false, "tickSize": -8, "title": null}},
               "color": {"field": "e", "type": "nominal", "scale": {"domain": ["N", "T"], "range": ["#ff0000", "#0000ff"]}, "legend": null},
               "text": {"field": "s"}}},
            {"data": {"name": "notes"}, "transform": [{"filter": "datum.p=='TL'"}],
             "mark": {"type": "text", "fontSize": 17, "align": "right", "baseline": "middle", "color": "#222222"},
             "encoding": {
               "x": {"field": "x", "type": "quantitative", "scale": {"domain": [0.01, 0.05], "nice": false, "zero": false}, "axis": {"orient": "top", "values": [0.0125, 0.015, 0.0175, 0.0225, 0.025, 0.0275, 0.0325, 0.035, 0.0375, 0.0425, 0.045, 0.0475], "labels": false, "tickSize": -4, "title": null}},
               "y": {"field": "y", "type": "quantitative", "scale": {"domain": [0, 2], "nice": false, "zero": false}, "axis": {"orient": "right", "values": [0.1, 0.2, 0.3, 0.4, 0.6, 0.7, 0.8, 0.9, 1.1, 1.2, 1.3, 1.4, 1.6, 1.7, 1.8, 1.9], "labels": false, "tickSize": -4, "title": null}},
               "text": {"field": "s"}}}
          ]
        },
        {
          "width": 370, "height": 250,
          "resolve": {"axis": {"x": "independent", "y": "independent"}},
          "layer": [
            {"data": {"name": "tr"}, "transform": [{"filter": "datum.l=='s'"}],
             "mark": {"type": "line", "strokeWidth": 2, "interpolate": "catmull-rom", "clip": true},
             "encoding": {
               "x": {"field": "x", "type": "quantitative", "scale": {"domain": [0.01, 0.05], "nice": false, "zero": false}, "axis": {"orient": "bottom", "values": [0.01, 0.02, 0.03, 0.04, 0.05], "format": ".2f", "ticks": false, "labelPadding": 5, "title": "sin²θ₁₃", "titlePadding": 3}},
               "y": {"field": "y", "type": "quantitative", "scale": {"domain": [0, 2], "nice": false, "zero": false}, "axis": null},
               "color": {"field": "e", "type": "nominal", "scale": {"domain": ["N", "T"], "range": ["#ff0000", "#0000ff"]}, "legend": null},
               "detail": {"field": "c"}, "order": {"value": null}}},
            {"data": {"name": "tr"}, "transform": [{"filter": "datum.l=='d'"}],
             "mark": {"type": "line", "strokeWidth": 2, "strokeDash": [7, 4], "interpolate": "catmull-rom", "clip": true},
             "encoding": {
               "x": {"field": "x", "type": "quantitative", "scale": {"domain": [0.01, 0.05], "nice": false, "zero": false}, "axis": {"orient": "bottom", "values": [0.01, 0.02, 0.03, 0.04, 0.05], "labels": false, "tickSize": -8, "title": null}},
               "y": {"field": "y", "type": "quantitative", "scale": {"domain": [0, 2], "nice": false, "zero": false}, "axis": {"orient": "left", "values": [0, 0.5, 1, 1.5, 2], "labels": false, "tickSize": -8, "title": null}},
               "color": {"field": "e", "type": "nominal", "scale": {"domain": ["N", "T"], "range": ["#ff0000", "#0000ff"]}, "legend": null},
               "detail": {"field": "c"}, "order": {"value": null}}},
            {"data": {"name": "stars"}, "transform": [{"filter": "datum.p=='TR'"}],
             "mark": {"type": "point", "shape": "M0,-1L0.235,-0.324L0.951,-0.309L0.38,0.124L0.588,0.809L0,0.4L-0.588,0.809L-0.38,0.124L-0.951,-0.309L-0.235,-0.324Z", "filled": true, "size": 90, "opacity": 1},
             "encoding": {
               "x": {"field": "x", "type": "quantitative", "scale": {"domain": [0.01, 0.05], "nice": false, "zero": false}, "axis": {"orient": "bottom", "values": [0.0125, 0.015, 0.0175, 0.0225, 0.025, 0.0275, 0.0325, 0.035, 0.0375, 0.0425, 0.045, 0.0475], "labels": false, "tickSize": -4, "title": null}},
               "y": {"field": "y", "type": "quantitative", "scale": {"domain": [0, 2], "nice": false, "zero": false}, "axis": {"orient": "left", "values": [0.1, 0.2, 0.3, 0.4, 0.6, 0.7, 0.8, 0.9, 1.1, 1.2, 1.3, 1.4, 1.6, 1.7, 1.8, 1.9], "labels": false, "tickSize": -4, "title": null}},
               "color": {"field": "e", "type": "nominal", "scale": {"domain": ["N", "T"], "range": ["#ff0000", "#0000ff"]}, "legend": null}}},
            {"data": {"name": "labels"}, "transform": [{"filter": "datum.p=='TR'"}],
             "mark": {"type": "text", "fontSize": 15, "align": "center", "baseline": "middle"},
             "encoding": {
               "x": {"field": "x", "type": "quantitative", "scale": {"domain": [0.01, 0.05], "nice": false, "zero": false}, "axis": {"orient": "top", "values": [0.01, 0.02, 0.03, 0.04, 0.05], "labels": false, "tickSize": -8, "title": null}},
               "y": {"field": "y", "type": "quantitative", "scale": {"domain": [0, 2], "nice": false, "zero": false}, "axis": {"orient": "right", "values": [0, 0.5, 1, 1.5, 2], "labels": false, "tickSize": -8, "title": null}},
               "color": {"field": "e", "type": "nominal", "scale": {"domain": ["N", "T"], "range": ["#ff0000", "#0000ff"]}, "legend": null},
               "text": {"field": "s"}}},
            {"data": {"name": "notes"}, "transform": [{"filter": "datum.p=='TR'"}],
             "mark": {"type": "text", "fontSize": 17, "align": "right", "baseline": "middle", "color": "#222222"},
             "encoding": {
               "x": {"field": "x", "type": "quantitative", "scale": {"domain": [0.01, 0.05], "nice": false, "zero": false}, "axis": {"orient": "top", "values": [0.0125, 0.015, 0.0175, 0.0225, 0.025, 0.0275, 0.0325, 0.035, 0.0375, 0.0425, 0.045, 0.0475], "labels": false, "tickSize": -4, "title": null}},
               "y": {"field": "y", "type": "quantitative", "scale": {"domain": [0, 2], "nice": false, "zero": false}, "axis": {"orient": "right", "values": [0.1, 0.2, 0.3, 0.4, 0.6, 0.7, 0.8, 0.9, 1.1, 1.2, 1.3, 1.4, 1.6, 1.7, 1.8, 1.9], "labels": false, "tickSize": -4, "title": null}},
               "text": {"field": "s"}}},
            {"data": {"name": "cl"}, "transform": [{"filter": "datum.p=='TR'"}],
             "mark": {"type": "text", "fontSize": 14.5, "align": "center", "baseline": "middle", "color": "#333333"},
             "encoding": {
               "x": {"field": "x", "type": "quantitative", "scale": {"domain": [0.01, 0.05], "nice": false, "zero": false}, "axis": null},
               "y": {"field": "y", "type": "quantitative", "scale": {"domain": [0, 2], "nice": false, "zero": false}, "axis": null},
               "text": {"field": "s"}}},
            {"data": {"name": "boxes"}, "transform": [{"filter": "datum.p=='TR'"}],
             "mark": {"type": "rect", "fill": "#ffffff", "fillOpacity": 0.85, "stroke": "#ED7D31", "strokeWidth": 6, "cornerRadius": 8, "clip": false},
             "encoding": {
               "x": {"field": "x", "type": "quantitative", "scale": {"domain": [0.01, 0.05], "nice": false, "zero": false}, "axis": null},
               "x2": {"field": "x2"},
               "y": {"field": "y", "type": "quantitative", "scale": {"domain": [0, 2], "nice": false, "zero": false}, "axis": null},
               "y2": {"field": "y2"}}},
            {"data": {"name": "heads"}, "transform": [{"filter": "datum.p=='TR'"}],
             "mark": {"type": "text", "font": "Liberation Sans", "fontWeight": "bold", "fontSize": 37, "align": "center", "baseline": "alphabetic", "color": "#ED7D31", "clip": false},
             "encoding": {
               "x": {"field": "x", "type": "quantitative", "scale": {"domain": [0.01, 0.05], "nice": false, "zero": false}, "axis": null},
               "y": {"field": "y", "type": "quantitative", "scale": {"domain": [0, 2], "nice": false, "zero": false}, "axis": null},
               "text": {"field": "s"}}}
          ]
        }
      ],
      "spacing": 62,
      "bounds": "flush"
    },
    {
      "hconcat": [
        {"width": 12, "height": 250, "view": {"stroke": null}, "data": {"values": []}, "mark": "point"},
        {
          "width": 370, "height": 250,
          "resolve": {"axis": {"x": "independent", "y": "independent"}},
          "layer": [
            {"data": {"name": "bl"}, "transform": [{"filter": "datum.l=='s'"}],
             "mark": {"type": "line", "strokeWidth": 2, "interpolate": "catmull-rom", "clip": true},
             "encoding": {
               "x": {"field": "x", "type": "quantitative", "scale": {"domain": [0.01, 0.05], "nice": false, "zero": false}, "axis": {"orient": "bottom", "values": [0.01, 0.02, 0.03, 0.04, 0.05], "format": ".2f", "ticks": false, "labelPadding": 5, "title": "sin²θ₁₃", "titlePadding": 3}},
               "y": {"field": "y", "type": "quantitative", "scale": {"domain": [0, 2], "nice": false, "zero": false}, "axis": {"orient": "left", "values": [0.5, 1, 1.5, 2], "format": ".1f", "ticks": false, "labelPadding": 6, "title": "δ/π", "titlePadding": 5}},
               "color": {"field": "e", "type": "nominal", "scale": {"domain": ["N", "T"], "range": ["#ff0000", "#0000ff"]}, "legend": null},
               "detail": {"field": "c"}, "order": {"value": null}}},
            {"data": {"name": "bl"}, "transform": [{"filter": "datum.l=='d'"}],
             "mark": {"type": "line", "strokeWidth": 2, "strokeDash": [7, 4], "interpolate": "catmull-rom", "clip": true},
             "encoding": {
               "x": {"field": "x", "type": "quantitative", "scale": {"domain": [0.01, 0.05], "nice": false, "zero": false}, "axis": {"orient": "bottom", "values": [0.01, 0.02, 0.03, 0.04, 0.05], "labels": false, "tickSize": -8, "title": null}},
               "y": {"field": "y", "type": "quantitative", "scale": {"domain": [0, 2], "nice": false, "zero": false}, "axis": {"orient": "left", "values": [0, 0.5, 1, 1.5, 2], "labels": false, "tickSize": -8, "title": null}},
               "color": {"field": "e", "type": "nominal", "scale": {"domain": ["N", "T"], "range": ["#ff0000", "#0000ff"]}, "legend": null},
               "detail": {"field": "c"}, "order": {"value": null}}},
            {"data": {"name": "stars"}, "transform": [{"filter": "datum.p=='BL'"}],
             "mark": {"type": "point", "shape": "M0,-1L0.235,-0.324L0.951,-0.309L0.38,0.124L0.588,0.809L0,0.4L-0.588,0.809L-0.38,0.124L-0.951,-0.309L-0.235,-0.324Z", "filled": true, "size": 90, "opacity": 1},
             "encoding": {
               "x": {"field": "x", "type": "quantitative", "scale": {"domain": [0.01, 0.05], "nice": false, "zero": false}, "axis": {"orient": "bottom", "values": [0.0125, 0.015, 0.0175, 0.0225, 0.025, 0.0275, 0.0325, 0.035, 0.0375, 0.0425, 0.045, 0.0475], "labels": false, "tickSize": -4, "title": null}},
               "y": {"field": "y", "type": "quantitative", "scale": {"domain": [0, 2], "nice": false, "zero": false}, "axis": {"orient": "left", "values": [0.1, 0.2, 0.3, 0.4, 0.6, 0.7, 0.8, 0.9, 1.1, 1.2, 1.3, 1.4, 1.6, 1.7, 1.8, 1.9], "labels": false, "tickSize": -4, "title": null}},
               "color": {"field": "e", "type": "nominal", "scale": {"domain": ["N", "T"], "range": ["#ff0000", "#0000ff"]}, "legend": null}}},
            {"data": {"name": "labels"}, "transform": [{"filter": "datum.p=='BL'"}],
             "mark": {"type": "text", "fontSize": 15, "align": "center", "baseline": "middle"},
             "encoding": {
               "x": {"field": "x", "type": "quantitative", "scale": {"domain": [0.01, 0.05], "nice": false, "zero": false}, "axis": {"orient": "top", "values": [0.01, 0.02, 0.03, 0.04, 0.05], "labels": false, "tickSize": -8, "title": null}},
               "y": {"field": "y", "type": "quantitative", "scale": {"domain": [0, 2], "nice": false, "zero": false}, "axis": {"orient": "right", "values": [0, 0.5, 1, 1.5, 2], "labels": false, "tickSize": -8, "title": null}},
               "color": {"field": "e", "type": "nominal", "scale": {"domain": ["N", "T"], "range": ["#ff0000", "#0000ff"]}, "legend": null},
               "text": {"field": "s"}}},
            {"data": {"name": "notes"}, "transform": [{"filter": "datum.p=='BL'"}],
             "mark": {"type": "text", "fontSize": 17, "align": "right", "baseline": "middle", "color": "#222222"},
             "encoding": {
               "x": {"field": "x", "type": "quantitative", "scale": {"domain": [0.01, 0.05], "nice": false, "zero": false}, "axis": {"orient": "top", "values": [0.0125, 0.015, 0.0175, 0.0225, 0.025, 0.0275, 0.0325, 0.035, 0.0375, 0.0425, 0.045, 0.0475], "labels": false, "tickSize": -4, "title": null}},
               "y": {"field": "y", "type": "quantitative", "scale": {"domain": [0, 2], "nice": false, "zero": false}, "axis": {"orient": "right", "values": [0.1, 0.2, 0.3, 0.4, 0.6, 0.7, 0.8, 0.9, 1.1, 1.2, 1.3, 1.4, 1.6, 1.7, 1.8, 1.9], "labels": false, "tickSize": -4, "title": null}},
               "text": {"field": "s"}}}
          ]
        },
        {
          "width": 370, "height": 250,
          "resolve": {"axis": {"x": "independent", "y": "independent"}},
          "layer": [
            {"data": {"name": "br"}, "transform": [{"filter": "datum.l=='s'"}],
             "mark": {"type": "line", "strokeWidth": 2, "interpolate": "catmull-rom", "clip": true},
             "encoding": {
               "x": {"field": "x", "type": "quantitative", "scale": {"domain": [0.01, 0.05], "nice": false, "zero": false}, "axis": {"orient": "bottom", "values": [0.01, 0.02, 0.03, 0.04, 0.05], "format": ".2f", "ticks": false, "labelPadding": 5, "title": "sin²θ₁₃", "titlePadding": 3}},
               "y": {"field": "y", "type": "quantitative", "scale": {"domain": [0, 2], "nice": false, "zero": false}, "axis": null},
               "color": {"field": "e", "type": "nominal", "scale": {"domain": ["N", "T"], "range": ["#ff0000", "#0000ff"]}, "legend": null},
               "detail": {"field": "c"}, "order": {"value": null}}},
            {"data": {"name": "br"}, "transform": [{"filter": "datum.l=='d'"}],
             "mark": {"type": "line", "strokeWidth": 2, "strokeDash": [7, 4], "interpolate": "catmull-rom", "clip": true},
             "encoding": {
               "x": {"field": "x", "type": "quantitative", "scale": {"domain": [0.01, 0.05], "nice": false, "zero": false}, "axis": {"orient": "bottom", "values": [0.01, 0.02, 0.03, 0.04, 0.05], "labels": false, "tickSize": -8, "title": null}},
               "y": {"field": "y", "type": "quantitative", "scale": {"domain": [0, 2], "nice": false, "zero": false}, "axis": {"orient": "left", "values": [0, 0.5, 1, 1.5, 2], "labels": false, "tickSize": -8, "title": null}},
               "color": {"field": "e", "type": "nominal", "scale": {"domain": ["N", "T"], "range": ["#ff0000", "#0000ff"]}, "legend": null},
               "detail": {"field": "c"}, "order": {"value": null}}},
            {"data": {"name": "stars"}, "transform": [{"filter": "datum.p=='BR'"}],
             "mark": {"type": "point", "shape": "M0,-1L0.235,-0.324L0.951,-0.309L0.38,0.124L0.588,0.809L0,0.4L-0.588,0.809L-0.38,0.124L-0.951,-0.309L-0.235,-0.324Z", "filled": true, "size": 90, "opacity": 1},
             "encoding": {
               "x": {"field": "x", "type": "quantitative", "scale": {"domain": [0.01, 0.05], "nice": false, "zero": false}, "axis": {"orient": "bottom", "values": [0.0125, 0.015, 0.0175, 0.0225, 0.025, 0.0275, 0.0325, 0.035, 0.0375, 0.0425, 0.045, 0.0475], "labels": false, "tickSize": -4, "title": null}},
               "y": {"field": "y", "type": "quantitative", "scale": {"domain": [0, 2], "nice": false, "zero": false}, "axis": {"orient": "left", "values": [0.1, 0.2, 0.3, 0.4, 0.6, 0.7, 0.8, 0.9, 1.1, 1.2, 1.3, 1.4, 1.6, 1.7, 1.8, 1.9], "labels": false, "tickSize": -4, "title": null}},
               "color": {"field": "e", "type": "nominal", "scale": {"domain": ["N", "T"], "range": ["#ff0000", "#0000ff"]}, "legend": null}}},
            {"data": {"name": "labels"}, "transform": [{"filter": "datum.p=='BR'"}],
             "mark": {"type": "text", "fontSize": 15, "align": "center", "baseline": "middle"},
             "encoding": {
               "x": {"field": "x", "type": "quantitative", "scale": {"domain": [0.01, 0.05], "nice": false, "zero": false}, "axis": {"orient": "top", "values": [0.01, 0.02, 0.03, 0.04, 0.05], "labels": false, "tickSize": -8, "title": null}},
               "y": {"field": "y", "type": "quantitative", "scale": {"domain": [0, 2], "nice": false, "zero": false}, "axis": {"orient": "right", "values": [0, 0.5, 1, 1.5, 2], "labels": false, "tickSize": -8, "title": null}},
               "color": {"field": "e", "type": "nominal", "scale": {"domain": ["N", "T"], "range": ["#ff0000", "#0000ff"]}, "legend": null},
               "text": {"field": "s"}}},
            {"data": {"name": "notes"}, "transform": [{"filter": "datum.p=='BR'"}],
             "mark": {"type": "text", "fontSize": 17, "align": "right", "baseline": "middle", "color": "#222222"},
             "encoding": {
               "x": {"field": "x", "type": "quantitative", "scale": {"domain": [0.01, 0.05], "nice": false, "zero": false}, "axis": {"orient": "top", "values": [0.0125, 0.015, 0.0175, 0.0225, 0.025, 0.0275, 0.0325, 0.035, 0.0375, 0.0425, 0.045, 0.0475], "labels": false, "tickSize": -4, "title": null}},
               "y": {"field": "y", "type": "quantitative", "scale": {"domain": [0, 2], "nice": false, "zero": false}, "axis": {"orient": "right", "values": [0.1, 0.2, 0.3, 0.4, 0.6, 0.7, 0.8, 0.9, 1.1, 1.2, 1.3, 1.4, 1.6, 1.7, 1.8, 1.9], "labels": false, "tickSize": -4, "title": null}},
               "text": {"field": "s"}}},
            {"data": {"name": "cl"}, "transform": [{"filter": "datum.p=='BR'"}],
             "mark": {"type": "text", "fontSize": 14.5, "align": "center", "baseline": "middle", "color": "#333333"},
             "encoding": {
               "x": {"field": "x", "type": "quantitative", "scale": {"domain": [0.01, 0.05], "nice": false, "zero": false}, "axis": null},
               "y": {"field": "y", "type": "quantitative", "scale": {"domain": [0, 2], "nice": false, "zero": false}, "axis": null},
               "text": {"field": "s"}}},
            {"data": {"name": "boxes"}, "transform": [{"filter": "datum.p=='BR'"}],
             "mark": {"type": "rect", "fill": "#ffffff", "fillOpacity": 0.85, "stroke": "#ED7D31", "strokeWidth": 6, "cornerRadius": 8, "clip": false},
             "encoding": {
               "x": {"field": "x", "type": "quantitative", "scale": {"domain": [0.01, 0.05], "nice": false, "zero": false}, "axis": null},
               "x2": {"field": "x2"},
               "y": {"field": "y", "type": "quantitative", "scale": {"domain": [0, 2], "nice": false, "zero": false}, "axis": null},
               "y2": {"field": "y2"}}},
            {"data": {"name": "heads"}, "transform": [{"filter": "datum.p=='BR'"}],
             "mark": {"type": "text", "font": "Liberation Sans", "fontWeight": "bold", "fontSize": 37, "align": "center", "baseline": "alphabetic", "color": "#ED7D31", "clip": false},
             "encoding": {
               "x": {"field": "x", "type": "quantitative", "scale": {"domain": [0.01, 0.05], "nice": false, "zero": false}, "axis": null},
               "y": {"field": "y", "type": "quantitative", "scale": {"domain": [0, 2], "nice": false, "zero": false}, "axis": null},
               "text": {"field": "s"}}}
          ]
        }
      ],
      "spacing": 62,
      "bounds": "flush"
    }
  ]
}
